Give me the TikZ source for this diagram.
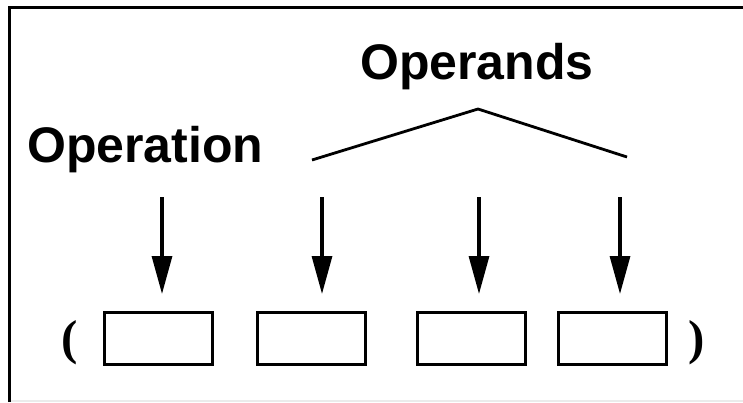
\documentclass[tikz,border=0pt]{standalone}
\usepackage{fontspec}
\setmainfont{Liberation Serif}
\setsansfont{Liberation Sans}
\usetikzlibrary{arrows.meta}
\tikzset{
  slot/.style={draw=black, line width=3.2pt, minimum width=108pt, minimum height=52pt, inner sep=0pt, outer sep=0pt},
  label/.style={font=\sffamily\bfseries\fontsize{50}{56}\selectfont, inner sep=0pt, anchor=base west},
  paren/.style={font=\rmfamily\bfseries\fontsize{49}{55}\selectfont, inner sep=0pt, anchor=base},
  pointer/.style={line width=3.2pt, -{Triangle[length=38pt,width=20pt]}},
  brace/.style={line width=2.8pt, line join=miter}
}
\begin{document}
\begin{tikzpicture}[x=1pt,y=-1pt]
\useasboundingbox (0,0) rectangle (743,402);
% frame
\draw[black!8, line width=1.2pt] (11,401) -- (743,401);
\draw[line width=3pt] (9.5,402) -- (9.5,7.5) -- (743,7.5);
% labels
\node[label] (operation) at (27,162) {Operation};
\node[label] (operands) at (360,79) {Operands};
% boxes
\node[slot] (b1) at (158.5,338.5) {};
\node[slot] (b2) at (311.5,338.5) {};
\node[slot] (b3) at (471.5,338.5) {};
\node[slot] (b4) at (612.5,338.5) {};
% parentheses
\node[paren] (lp) at (70,354) {(};
\node[paren] (rp) at (697,354) {)};
% operand bracket
\coordinate (bl) at (312,160);
\coordinate (bpeak) at (478,109);
\coordinate (br) at (627,157);
\draw[brace] (bl) -- (bpeak) -- (br);
% arrows
\foreach \i/\x in {1/162,2/322,3/479,4/620}{
  \coordinate (t\i) at (\x,197);
  \coordinate (h\i) at (\x,294);
  \draw[pointer] (t\i) -- (h\i);
}
\end{tikzpicture}
\end{document}
